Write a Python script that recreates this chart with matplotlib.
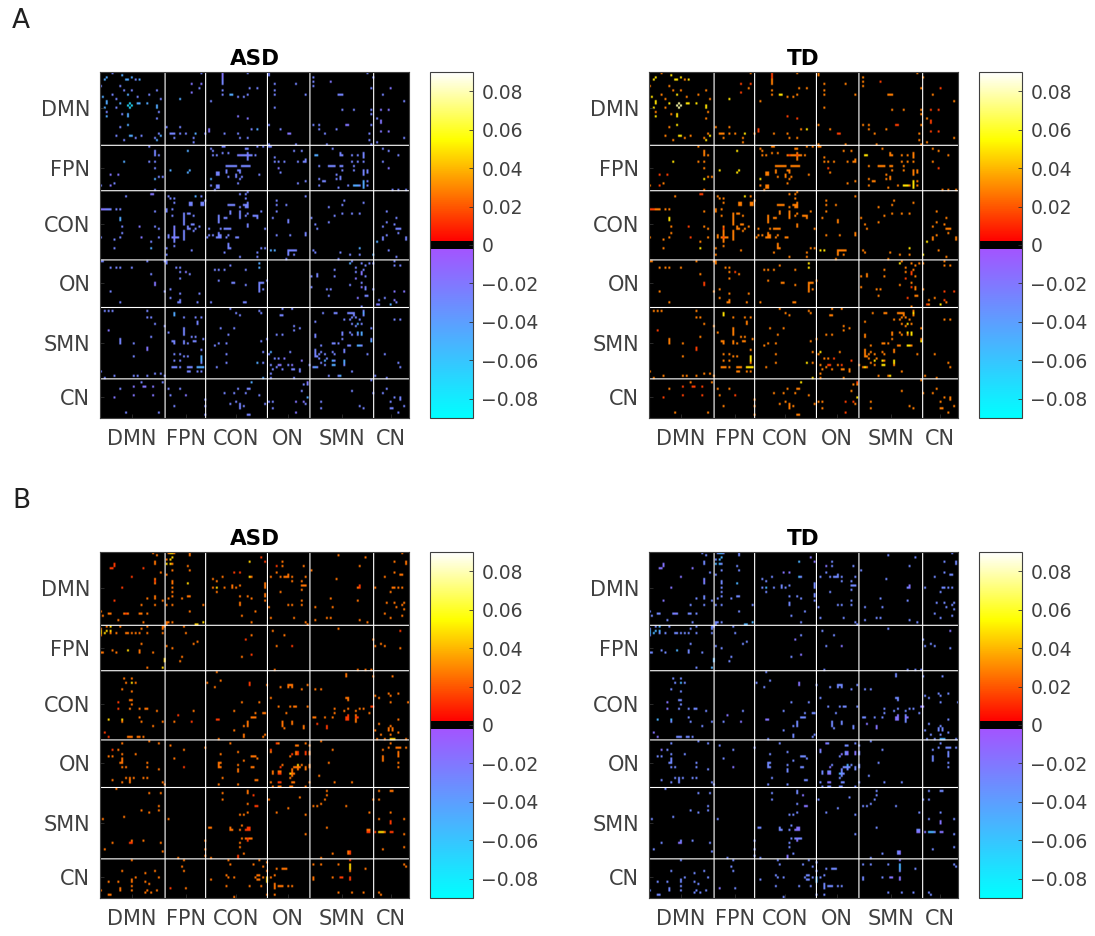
import numpy as np
import matplotlib
matplotlib.use("Agg")
import matplotlib.pyplot as plt
from matplotlib.colors import LinearSegmentedColormap

# networks of the 160 node atlas
networks = ["DMN", "FPN", "CON", "ON", "SMN", "CN"]
boundaries = [34, 55, 87, 109, 142]
net_ticks = [16, 44, 70, 97, 125, 150]
n_nodes = 160

cbar_ticks = [-0.08, -0.06, -0.04, -0.02, 0, 0.02, 0.04, 0.06, 0.08]
cbar_labels = ["\u22120.08", "\u22120.06", "\u22120.04", "\u22120.02", "0", "0.02", "0.04", "0.06", "0.08"]

# strength: dim, normal, bright, peak
a_levels_asd = [-0.019, -0.027, -0.046, -0.072]
a_levels_td = [0.015, 0.028, 0.049, 0.078]
b_levels_asd = [0.014, 0.026, 0.046]
b_levels_td = [-0.018, -0.029, -0.05]

# panel A, upper triangle only, (row, col)
a_dmn_dmn = [(0,6),(1,11),(2,3),(2,16),(3,13),(3,14),(3,18),(3,20),(6,10),(8,12),(8,16),(8,29),(10,14),(10,25),(11,19),
             (12,31),(14,15),(14,19),(14,20),(14,24),(15,16),(15,29),(16,29),(18,30),(21,29),(28,30),(29,31)]
a_dmn_fpn = [(0,52),(5,47),(5,52),(7,51),(9,47),(12,41),(25,34),(25,41),(28,36),(28,37),(28,38),(28,41),(28,44),(28,49),
             (28,54),(30,38),(30,48),(32,48)]
a_dmn_con = [(0,63),(1,63),(2,63),(3,63),(4,63),(5,63),(0,76),(8,63),(7,77),(7,81),(10,63),(10,67),(10,68),(11,71),(11,74),
             (10,76),(13,57),(20,71),(21,76),(26,56),(27,56),(28,64),(28,71),(30,72),(30,76),(26,78),(26,81)]
a_dmn_on = [(0,87),(1,87),(5,90),(5,101),(8,90),(10,90),(10,106),(16,90),(24,87),(26,93),(28,97),(28,98),(33,101),(33,87)]
a_dmn_smn = [(2,110),(4,110),(6,110),(4,119),(0,138),(2,141),(7,140),(10,123),(10,124),(10,125),(17,125),(17,131),(17,140),
             (19,140),(24,140),(24,110),(24,113),(26,113),(28,116),(26,122),(24,127),(24,128),(28,139),(31,139),(33,117),(33,140)]
a_dmn_cn = [(7,150),(10,146),(13,157),(17,145),(17,149),(21,143),(22,145),(23,145),(27,145),(27,149),(30,157),(32,143)]
a_fpn_fpn = [(36,45),(45,46)]
a_fpn_con = [(34,63),(34,64),(35,57),(36,58),(38,60),(38,58),(37,63),(37,66),(35,75),(35,76),(34,81),(34,84),(38,80),(37,76),
             (38,76),(39,76),(40,76),(38,71),(38,72),(38,73),(38,74),(38,75),(38,77),(38,78),(43,65),(43,66),(43,67),(43,68),
             (43,69),(43,70),(43,73),(43,74),(43,75),(43,76),(43,77),(46,60),(46,61),(47,60),(47,61),(45,65),(46,65),(48,66),
             (45,71),(47,70),(48,70),(45,72),(46,72),(48,73),(49,72),(51,71),(47,82),(49,57),(52,57),(52,60),(52,61),(53,60),
             (53,61),(54,59)]
a_fpn_on = [(34,87),(34,88),(39,90),(41,90),(41,92),(41,95),(36,100),(36,104),(41,102),(41,105),(41,106),(40,106),(44,92),
            (46,93),(51,102),(50,106)]
a_fpn_smn = [(38,111),(38,112),(35,120),(37,124),(38,124),(38,125),(38,130),(38,133),(37,136),(38,136),(39,136),(41,136),
             (41,130),(41,133),(43,113),(43,118),(43,119),(43,120),(43,121),(43,124),(43,125),(43,131),(45,125),(45,131),
             (45,136),(46,136),(47,136),(45,138),(46,138),(47,122),(48,124),(49,124),(49,113),(50,115),(50,116),(49,122),
             (50,138),(52,113),(53,123),(52,128),(52,131),(52,132),(52,133),(52,134),(50,136),(51,136),(52,136),(53,136),(52,138)]
a_fpn_cn = [(35,146),(36,149),(38,154),(41,146),(44,149),(54,151),(54,154),(54,158)]
a_con_con = [(55,76),(56,72),(56,75),(58,75),(61,66),(61,67),(61,68),(61,69),(61,74),(61,75),(60,76),(61,76),(62,76),(62,72),
             (64,67),(65,67),(64,72),(65,72),(66,72),(67,72),(65,76),(66,79),(66,80),(66,81),(67,81),(64,83),(70,76),(62,75),
             (66,75),(71,76),(72,85),(81,83),(81,85)]
a_con_on = [(57,106),(59,91),(61,91),(61,96),(64,91),(67,89),(68,97),(69,97),(75,91),(75,98),(74,106),(75,106),(82,88),(82,90),
            (82,97),(83,97),(84,97),(82,98),(82,99),(82,100),(82,101),(84,100),(86,96)]
a_con_smn = [(67,109),(70,111),(72,112),(62,118),(59,126),(61,125),(66,121),(65,125),(65,130),(65,134),(60,136),(69,118),
             (82,110),(83,111),(83,124),(84,129),(81,134),(84,134),(84,141),(86,123)]
a_con_cn = [(64,148),(67,153),(69,148),(70,152),(71,146),(72,153),(72,154),(72,155),(74,154),(76,146),(77,146),(75,148),(78,143),
            (76,158),(77,158),(82,149),(85,153)]
a_on_smn = [(93,112),(94,112),(91,121),(94,121),(87,130),(88,129),(88,135),(89,137),(88,139),(88,141),(90,132),(91,136),(92,132),
            (92,135),(93,135),(94,137),(95,132),(97,135),(98,129),(99,135),(99,137),(100,137),(100,117),(100,119),(100,141),
            (103,118),(104,133),(103,137),(103,138),(108,135),(94,109),(99,109)]
a_on_cn = [(87,152),(89,152),(89,155),(101,152),(101,157),(104,147),(105,144),(106,153),(107,150),(107,143),(107,144),(105,152)]
a_smn_smn = [(111,115),(111,121),(111,128),(111,129),(111,130),(111,131),(110,136),(111,136),(112,136),(113,130),(113,132),
             (114,126),(114,129),(114,134),(116,130),(116,135),(117,132),(118,140),(121,125),(121,130),(121,133),(121,135),
             (123,125),(123,140),(124,140),(126,128),(126,129),(126,133),(126,134),(126,135),(112,131),(120,129),(120,133),
             (116,133),(120,135),(130,138),(111,122),(120,125)]
a_smn_cn = [(114,152),(114,155),(130,147),(134,154),(136,155),(140,142),(141,148)]
a_cn_cn = [(146,148),(150,152),(151,155),(154,157),(150,155)]

a_dim = [(5,47),(9,47),(5,52),(7,150),(17,145),(22,145),(23,145),(27,145),(27,149),(17,149),(4,119),(24,127),(24,128),(28,97),
         (28,98),(0,63),(1,63),(2,63),(26,56),(27,56),(20,71),(21,76),(44,92),(101,157),(101,152),(105,152),(107,143),(92,135),
         (93,135),(95,132),(99,135),(104,133),(44,149),(38,72),(38,76)]
a_bright = [(2,3),(1,11),(3,13),(3,14),(3,20),(2,16),(14,19),(14,20),(14,24),(15,29),(16,29),(29,31),(10,14),(12,41),(28,49),
            (49,57),(36,45),(45,46),(26,81),(38,111),(38,112),(52,131),(52,132),(52,133),(50,136),(51,136),(52,136),(53,136),
            (82,88),(82,90),(81,134),(84,141),(126,134),(111,136),(121,135),(116,133),(120,133),(120,135),(107,150),(124,140),
            (78,143),(126,133),(10,67),(10,68),(88,129)]
a_peak = [(14,15),(15,16)]

# panel B, same layout
b_dmn_dmn = [(0,27),(1,29),(4,28),(5,28),(5,7),(6,7),(7,22),(9,31),(11,16),(12,28),(13,28),(14,28),(20,28),(21,28),(21,24),
             (22,32),(24,28)]
b_dmn_fpn = [(0,35),(0,36),(0,37),(0,38),(0,46),(1,46),(2,37),(3,34),(3,36),(5,34),(5,36),(5,37),(6,45),(8,46),(8,37),(10,34),
             (13,37),(14,37),(14,45),(16,37),(18,37),(20,37),(21,35),(21,42),(20,45),(20,46),(24,34),(24,37),(24,53),(27,46),
             (32,34),(33,34),(32,35),(32,37),(33,49),(33,50),(32,53)]
b_dmn_con = [(2,83),(4,77),(4,85),(9,69),(9,72),(11,77),(11,78),(11,63),(12,58),(13,60),(16,58),(16,60),(18,60),(16,64),(15,68),
             (16,68),(16,70),(15,72),(14,85),(15,85),(16,85),(19,85),(20,85),(20,72),(20,76),(21,78),(22,85),(23,72),(24,72),
             (27,80),(29,73),(32,78)]
b_dmn_on = [(4,94),(6,91),(6,94),(6,105),(9,91),(10,97),(11,88),(11,93),(11,95),(11,96),(11,97),(11,99),(13,99),(13,104),(11,106),
            (15,104),(15,105),(15,106),(17,104),(18,93),(24,97),(24,99),(22,104),(24,104),(25,87),(30,88),(30,100),(32,106),(33,107)]
b_dmn_smn = [(8,109),(1,123),(2,137),(6,134),(12,122),(15,134),(16,134),(16,133),(21,119),(22,133),(25,111),(25,120),(31,111),
             (30,117),(30,119),(31,134),(32,138)]
b_dmn_cn = [(0,156),(4,152),(4,158),(5,158),(9,152),(10,155),(10,156),(11,147),(16,142),(16,151),(16,152),(16,154),(16,156),(18,150),
            (23,148),(23,152),(23,157),(25,153),(24,156),(26,157),(28,147),(29,156),(30,150)]
b_fpn_fpn = [(34,43),(37,44),(42,48),(41,50)]
b_fpn_con = [(40,75),(38,78),(48,73),(47,78)]
b_fpn_on = [(36,89),(38,95),(43,91),(43,99),(54,90)]
b_fpn_smn = [(35,123),(54,133),(54,137),(40,141),(54,140)]
b_fpn_cn = [(36,155),(43,142),(42,145),(43,147),(44,155)]
b_con_con = [(55,60),(59,62),(60,77),(61,77),(61,86),(69,73),(69,82),(74,80),(74,84),(76,79),(76,78),(76,80),(74,85),(84,85)]
b_con_on = [(62,93),(61,97),(61,98),(61,99),(62,97),(62,99),(63,104),(61,107),(67,88),(71,92),(71,98),(71,100),(71,101),(71,107),
            (74,96),(78,94),(79,94),(80,94),(79,99),(80,105),(81,95),(78,99),(81,105)]
b_con_smn = [(56,127),(57,127),(63,111),(63,114),(67,127),(67,128),(68,128),(72,121),(73,126),(72,128),(73,132),(72,134),(72,136),
             (71,140),(71,141),(74,121),(75,128),(76,127),(76,128),(77,127),(77,128),(76,120),(76,116),(76,110),(76,111),(79,112),
             (75,132),(76,132),(76,133),(77,132),(74,139),(80,117),(81,117),(78,132)]
b_con_cn = [(57,151),(57,141),(66,142),(67,144),(65,149),(66,150),(65,154),(69,150),(69,159),(77,154),(79,144),(80,150),(81,149),
            (81,151),(82,149),(82,151),(84,150),(83,154),(84,145),(82,142),(86,147),(86,158),(86,143),(86,150),(86,151),(86,152)]
b_on_on = [(88,91),(89,101),(88,92),(94,98),(93,101),(92,101),(93,106),(92,106),(93,108),(92,108),(99,100),(99,101),(99,106),
           (100,106),(99,103),(99,108),(98,102),(99,102),(100,102),(98,104),(88,106),(89,102),(93,99),(92,102),
           (93,102),(89,108),(98,108),(106,108)]
b_on_smn = [(87,114),(91,120),(97,118),(103,113),(106,121),(106,130)]
b_on_cn = [(88,150),(91,146),(90,149),(90,153),(90,154),(90,155),(90,158),(92,154),(93,154),(94,154),(94,146),(95,146),(96,146),
           (97,154),(99,154)]
b_smn_smn = [(110,117),(112,117),(114,116),(117,127),(120,139),(129,138),(129,139),(128,138),(128,139),(114,141)]
b_smn_cn = [(110,144),(110,150),(110,151),(114,144),(120,150),(124,150),(125,150),(123,144),(123,157),(129,142),(129,144),(129,145),
            (129,146),(129,147),(129,150),(129,151),(130,157),(136,157),(137,146)]
b_cn_cn = [(144,157),(145,158)]

b_dim = [(5,7),(6,7),(7,22),(11,16),(13,28),(9,72),(9,69),(2,83),(4,85),(6,91),(15,134),(16,134),(76,127),(76,128),(77,127),(77,128),
         (60,77),(61,77),(75,128),(71,140),(71,141),(76,132),(76,133),(79,112),(80,117),(81,117),(93,106),(92,106),(92,102),(93,102),
         (93,99),(88,91),(129,138),(129,139),(129,142),(129,150),(129,151),(124,150),(125,150),(36,155),(43,99),(47,78),(40,75)]
b_bright = [(4,77),(11,77),(16,60),(86,150),(86,151),(86,152),(129,144),(129,145),(129,146),(98,102),(5,34),(5,36),(3,36),(2,37),(32,53),
            (33,49),(33,50),(0,36),(0,37),(14,45)]

a_blocks = [a_dmn_dmn, a_dmn_fpn, a_dmn_con, a_dmn_on, a_dmn_smn, a_dmn_cn, a_fpn_fpn, a_fpn_con, a_fpn_on, a_fpn_smn, a_fpn_cn,
            a_con_con, a_con_on, a_con_smn, a_con_cn, a_on_smn, a_on_cn, a_smn_smn, a_smn_cn, a_cn_cn]
b_blocks = [b_dmn_dmn, b_dmn_fpn, b_dmn_con, b_dmn_on, b_dmn_smn, b_dmn_cn, b_fpn_fpn, b_fpn_con, b_fpn_on, b_fpn_smn, b_fpn_cn,
            b_con_con, b_con_on, b_con_smn, b_con_cn, b_on_on, b_on_smn, b_on_cn, b_smn_smn, b_smn_cn, b_cn_cn]


def build_matrix(blocks, levels, dim, bright, peak=()):
    m = np.zeros((n_nodes, n_nodes))
    for block in blocks:
        for r, c in block:
            if (r, c) in peak:
                v = levels[3]
            elif (r, c) in bright:
                v = levels[2]
            elif (r, c) in dim:
                v = levels[0]
            else:
                v = levels[1]
            # matrix is symmetric
            m[r, c] = v
            m[c, r] = v
    return m


vmax = 0.09
black = 0.002


def pos(v):
    return (v + vmax) / (2 * vmax)


# cool part, black band around zero, then the hot part
cmap = LinearSegmentedColormap.from_list("cool_hot", [
    (pos(-vmax), (0, 1, 1)),
    (pos(-black), (0.64, 0.33, 1)),
    (pos(-black) + 1e-6, (0, 0, 0)),
    (pos(black), (0, 0, 0)),
    (pos(black) + 1e-6, (1, 0, 0)),
    (pos(0.055), (1, 1, 0)),
    (pos(vmax), (1, 1, 1)),
], N=512)

text_col = "#404040"
W, H = 1095, 936
fig = plt.figure(figsize=(W / 100, H / 100), dpi=100)


def axes_px(x0, y0, x1, y1):
    return fig.add_axes([x0 / W, 1 - y1 / H, (x1 - x0) / W, (y1 - y0) / H])


def draw_panel(x0, y0, matrix, title):
    ax = axes_px(x0, y0, x0 + 309, y0 + 346)
    ax.imshow(matrix, cmap=cmap, vmin=-vmax, vmax=vmax, aspect="auto")
    # no snapping, so the lines go grey where they fall between pixels
    for b in boundaries:
        ax.axhline(b - 0.6, color="white", lw=0.8, snap=False)
        ax.axvline(b - 0.8, color="white", lw=0.8, snap=False)
    ax.set_xticks(net_ticks)
    ax.set_yticks(net_ticks)
    ax.set_xticklabels(networks, fontsize=15, color=text_col)
    ax.set_yticklabels(networks, fontsize=15, color=text_col)
    ax.tick_params(direction="in", length=3, width=0.6, color="#303030")
    ax.tick_params(axis="x", pad=8)
    ax.tick_params(axis="y", pad=7)
    for s in ax.spines.values():
        s.set_color("#404040")
        s.set_linewidth(0.8)
    ax.set_title(title, fontsize=15.5, fontweight="bold", color="black", pad=5)

    cax = axes_px(x0 + 330, y0, x0 + 373, y0 + 346)
    sm = plt.cm.ScalarMappable(cmap=cmap, norm=plt.Normalize(-vmax, vmax))
    cb = fig.colorbar(sm, cax=cax, ticks=cbar_ticks)
    cb.ax.set_yticklabels(cbar_labels, fontsize=13.5, color=text_col)
    cb.ax.tick_params(direction="in", length=3, width=0.6, color="#303030", pad=6)
    cb.outline.set_edgecolor("#404040")
    cb.outline.set_linewidth(0.8)


a_asd = build_matrix(a_blocks, a_levels_asd, a_dim, a_bright, a_peak)
a_td = build_matrix(a_blocks, a_levels_td, a_dim, a_bright, a_peak)
b_asd = build_matrix(b_blocks, b_levels_asd, b_dim, b_bright)
b_td = build_matrix(b_blocks, b_levels_td, b_dim, b_bright)

draw_panel(100, 72, a_asd, "ASD")
draw_panel(649, 72, a_td, "TD")
draw_panel(100, 552, b_asd, "ASD")
draw_panel(649, 552, b_td, "TD")

fig.text(21 / W, 1 - 21 / H, "A", fontsize=19, color="#202020", ha="center", va="center")
fig.text(21 / W, 1 - 501 / H, "B", fontsize=19, color="#202020", ha="center", va="center")

fig.savefig("out.png", dpi=100)
